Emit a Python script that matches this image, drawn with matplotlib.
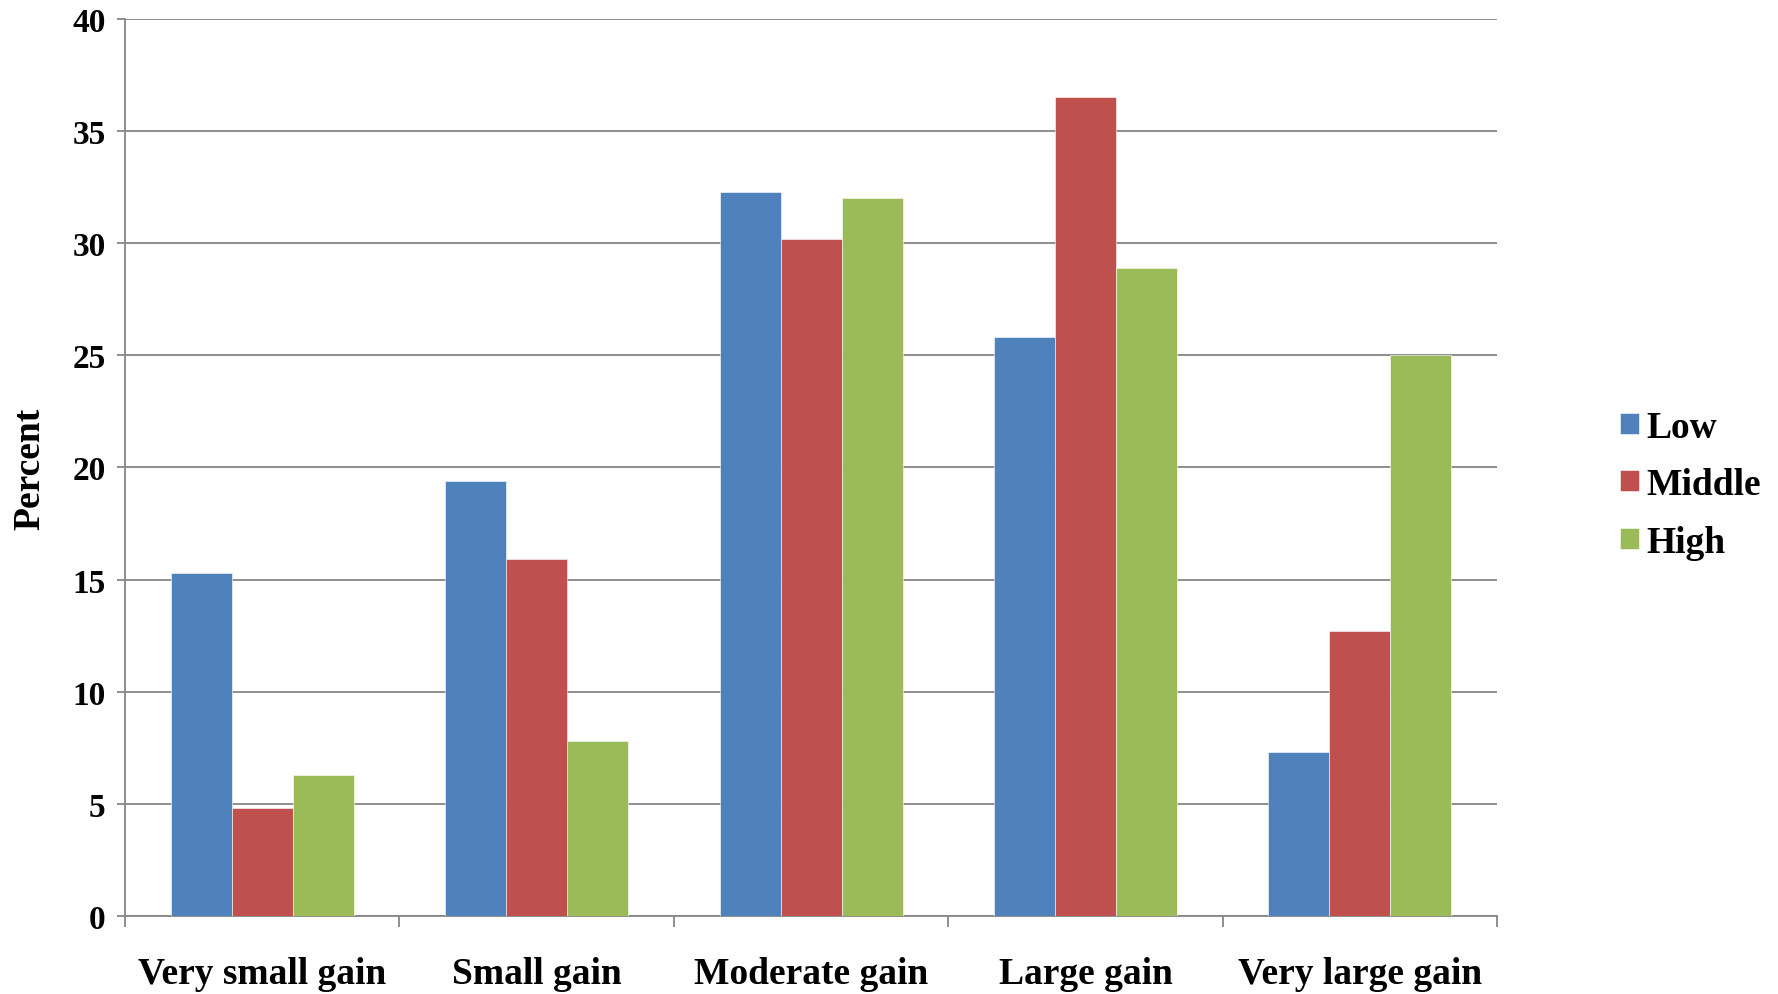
import matplotlib.pyplot as plt
import numpy as np

categories = ["Very small gain", "Small gain", "Moderate gain", "Large gain", "Very large gain"]
series_names = ["Low", "Middle", "High"]
low = [15.3, 19.4, 32.3, 25.8, 7.3]
middle = [4.8, 15.9, 30.2, 36.5, 12.7]
high = [6.3, 7.8, 32.0, 28.9, 25.0]
colors = ["#4F81BD", "#C0504D", "#9BBB59"]

plt.rcParams["font.family"] = ["Liberation Serif", "DejaVu Serif"]
plt.rcParams["font.weight"] = "bold"

fig = plt.figure(figsize=(17.78, 9.95), dpi=100)
ax = fig.add_axes([0.0703, 0.0784, 0.7717, 0.9016])

x = np.arange(len(categories))
w = 1 / 4.5
for i, (vals, name) in enumerate(zip([low, middle, high], series_names)):
    ax.bar(x + (i - 1) * w, vals, width=w, color=colors[i], label=name, zorder=3,
           edgecolor="white", linewidth=0.4)

ax.set_xlim(-0.5, len(categories) - 0.5)
ax.set_ylim(0, 40)
ax.set_yticks(range(0, 41, 5))
ax.yaxis.grid(True, color="#868686", linewidth=1.3, zorder=0)

for side in ["top", "right"]:
    ax.spines[side].set_visible(False)
for side in ["left", "bottom"]:
    ax.spines[side].set_color("#868686")
    ax.spines[side].set_linewidth(1.3)

# category labels centred on groups, tick marks between groups
ax.set_xticks(x)
ax.set_xticklabels(categories, fontsize=27, fontweight="bold")
ax.set_xticks(np.arange(-0.5, len(categories)), minor=True)
ax.tick_params(axis="x", which="major", length=0, pad=29)
ax.tick_params(axis="x", which="minor", length=8, width=1.3, color="#868686")
ax.tick_params(axis="y", length=6, width=1.3, color="#868686", labelsize=24, pad=8)
for lbl in ax.get_yticklabels():
    lbl.set_fontweight("bold")

ax.set_ylabel("Percent", fontsize=27, fontweight="bold", labelpad=18)

ax.legend(loc="center left", bbox_to_anchor=(0.911, 0.512), bbox_transform=fig.transFigure,
          frameon=False, prop={"size": 27, "weight": "bold"}, borderaxespad=0, borderpad=0,
          handlelength=0.5, handleheight=0.5, handletextpad=0.2, labelspacing=0.6)

fig.savefig("out.png", dpi=100)
